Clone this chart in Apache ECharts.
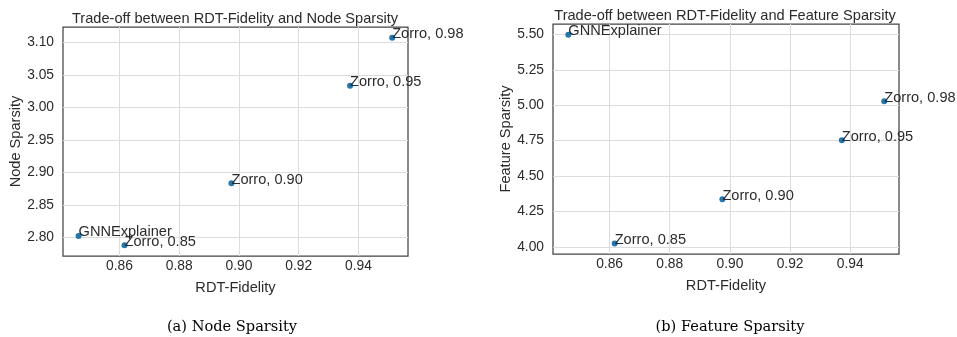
<!DOCTYPE html>
<html>
<head>
<meta charset="utf-8">
<script src="https://cdn.jsdelivr.net/npm/echarts@6/dist/echarts.min.js"></script>
<style>
html,body{margin:0;padding:0;background:#fff;}
#c{width:957px;height:337px;}
</style>
</head>
<body>
<div id="c"></div>
<script>
// ---- data ----
const pointNames = ['GNNExplainer', 'Zorro, 0.85', 'Zorro, 0.90', 'Zorro, 0.95', 'Zorro, 0.98'];
const rdtFidelity = [0.8463, 0.8617, 0.8975, 0.9372, 0.9513];
const nodeSparsity = [2.8026, 2.7883, 2.8837, 3.0331, 3.1070];
const featureSparsity = [5.497, 4.024, 4.337, 4.752, 5.028];
const xTicks = [0.86, 0.88, 0.90, 0.92, 0.94];
const nodeTicks = [2.80, 2.85, 2.90, 2.95, 3.00, 3.05, 3.10];
const featureTicks = [4.00, 4.25, 4.50, 4.75, 5.00, 5.25, 5.50];

const TXT = '#2b2b2b';
const FONT = 'Liberation Sans, Arial, sans-serif';

function mk(ys) {
  return rdtFidelity.map((x, i) => ({ name: pointNames[i], value: [x, ys[i]] }));
}

function xAxis(gi, min, max) {
  return {
    type: 'value', gridIndex: gi, min: min, max: max,
    name: 'RDT-Fidelity', nameLocation: 'middle', nameGap: 24,
    nameTextStyle: { color: TXT, fontSize: 14.6, fontFamily: FONT },
    axisLine: { show: false },
    axisTick: { show: false, customValues: xTicks },
    axisLabel: { customValues: xTicks, color: TXT, fontSize: 13.8, fontFamily: FONT, margin: 3,
                 formatter: v => v.toFixed(2) },
    splitLine: { show: true, lineStyle: { color: '#dcdcdc', width: 1 } }
  };
}
function yAxis(gi, min, max, ticks, name, gap) {
  return {
    type: 'value', gridIndex: gi, min: min, max: max,
    name: name, nameLocation: 'middle', nameGap: gap,
    nameTextStyle: { color: TXT, fontSize: 14.6, fontFamily: FONT },
    axisLine: { show: false },
    axisTick: { show: false, customValues: ticks },
    axisLabel: { customValues: ticks, color: TXT, fontSize: 13.8, fontFamily: FONT, margin: 9,
                 formatter: v => v.toFixed(2) },
    splitLine: { show: true, lineStyle: { color: '#dcdcdc', width: 1 } }
  };
}
function series(gi, ys) {
  return {
    type: 'scatter', xAxisIndex: gi, yAxisIndex: gi,
    data: mk(ys), symbolSize: 6,
    itemStyle: { color: '#1f77b4', opacity: 1 },
    label: { show: true, formatter: p => p.name, position: [3, 7], align: 'left', verticalAlign: 'bottom',
             color: TXT, fontSize: 14.6, fontFamily: FONT },
    emphasis: { disabled: true },
    silent: true, animation: false
  };
}

const chart = echarts.init(document.getElementById('c'));
chart.setOption({
  animation: false,
  backgroundColor: '#fff',
  title: [
    { text: 'Trade-off between RDT-Fidelity and Node Sparsity', left: 230, top: 6, textAlign: 'center',
      textStyle: { color: TXT, fontSize: 14.6, fontWeight: 'normal', fontFamily: FONT } },
    { text: 'Trade-off between RDT-Fidelity and Feature Sparsity', left: 720, top: 3, textAlign: 'center',
      textStyle: { color: TXT, fontSize: 14.6, fontWeight: 'normal', fontFamily: FONT } },
    { text: '(a) Node Sparsity', left: 227, top: 315, textAlign: 'center',
      textStyle: { color: '#000', fontSize: 14.6, fontWeight: 'normal', fontFamily: 'DejaVu Serif, serif' } },
    { text: '(b) Feature Sparsity', left: 725, top: 315, textAlign: 'center',
      textStyle: { color: '#000', fontSize: 14.6, fontWeight: 'normal', fontFamily: 'DejaVu Serif, serif' } }
  ],
  grid: [
    { left: 63, top: 27, right: 549, bottom: 81, show: true, borderColor: '#444', borderWidth: 1.25, backgroundColor: 'transparent' },
    { left: 553, top: 24, right: 58, bottom: 83, show: true, borderColor: '#444', borderWidth: 1.25, backgroundColor: 'transparent' }
  ],
  xAxis: [ xAxis(0, 0.8411, 0.9566), xAxis(1, 0.8412, 0.9562) ],
  yAxis: [ yAxis(0, 2.7718, 3.1235, nodeTicks, 'Node Sparsity', 38),
           yAxis(1, 3.9506, 5.5727, featureTicks, 'Feature Sparsity', 39) ],
  series: [ series(0, nodeSparsity), series(1, featureSparsity) ]
});
</script>
</body>
</html>
